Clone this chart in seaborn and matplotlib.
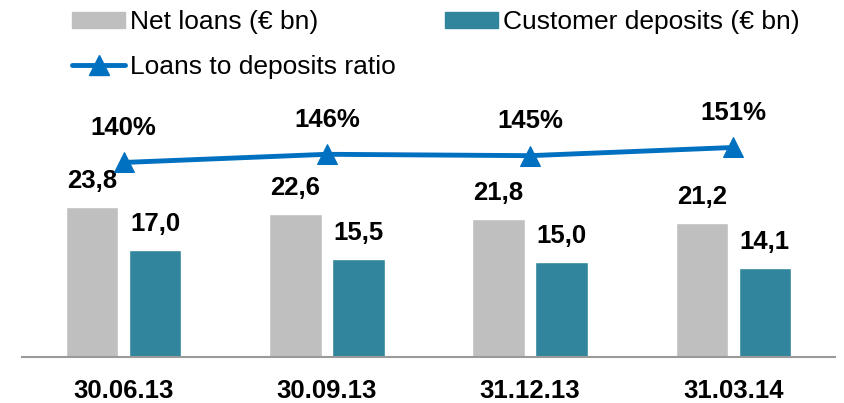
import numpy as np
import pandas as pd
import matplotlib.pyplot as plt
import seaborn as sns
from matplotlib.patches import Patch
from matplotlib.lines import Line2D

# chart data
dates = ["30.06.13", "30.09.13", "31.12.13", "31.03.14"]
net_loans = [23.8, 22.6, 21.8, 21.2]
deposits = [17.0, 15.5, 15.0, 14.1]
ratio = [140, 146, 145, 151]

GREY = "#BFBFBF"
TEAL = "#31859C"
BLUE = "#0070C0"

sns.set_style("white")
plt.rcParams["font.family"] = ["Liberation Sans", "DejaVu Sans"]
plt.rcParams["text.color"] = "black"
plt.rcParams["xtick.color"] = "black"

df = pd.DataFrame({
    "date": dates * 2,
    "value": net_loans + deposits,
    "series": ["Net loans (€ bn)"] * 4 + ["Customer deposits (€ bn)"] * 4,
})

fig = plt.figure(figsize=(8.44, 4.03), dpi=100)
ax = fig.add_axes([22 / 844, 46 / 403, 813 / 844, 257 / 403])

sns.barplot(data=df, x="date", y="value", hue="series",
            palette=[GREY, TEAL], width=0.62, gap=0.17,
            saturation=1, legend=False, ax=ax)
ax.set_xlim(-0.5, 3.5)
ax.set_ylim(0, 40.66)

for cont in ax.containers:
    ax.bar_label(cont, labels=[f"{v:.1f}".replace(".", ",") for v in cont.datavalues],
                 padding=10, fontsize=18.5, fontweight="bold", color="black")

# ratio line on secondary axis
ax2 = ax.twinx()
line_df = pd.DataFrame({"x": np.arange(len(dates)), "ratio": ratio})
sns.lineplot(data=line_df, x="x", y="ratio", color=BLUE, lw=3.5,
             marker="^", markersize=15, markeredgecolor=BLUE, ax=ax2)
ax2.set_ylim(-2.6, 185.8)
for i, r in enumerate(ratio):
    ax2.annotate(f"{r}%", (i, r), xytext=(0, 25), textcoords="offset points",
                 ha="center", va="center", fontsize=18.5, fontweight="bold", color="black")

for a in (ax, ax2):
    for s in ["top", "left", "right"]:
        a.spines[s].set_visible(False)
    a.set_ylabel("")
    a.set_xlabel("")
    a.set_yticks([])
ax.spines["bottom"].set_color("#9A9A9A")
ax.spines["bottom"].set_linewidth(1.5)
ax2.spines["bottom"].set_visible(False)
ax.tick_params(axis="x", length=0, pad=16, labelsize=18.5, labelcolor="black")
for t in ax.get_xticklabels():
    t.set_fontweight("bold")

handles = [
    Patch(color=GREY, label="Net loans (€ bn)"),
    Line2D([], [], color=BLUE, lw=3.5, marker="^", markersize=15, label="Loans to deposits ratio"),
    Patch(color=TEAL, label="Customer deposits (€ bn)"),
]
fig.legend(handles=handles, ncol=2, loc="upper left", bbox_to_anchor=(59 / 844, 1.0 + 3 / 403),
           frameon=False, fontsize=19, handlelength=2.0, handleheight=0.6,
           handletextpad=0.2, columnspacing=1.85, labelspacing=0.8, borderpad=0,
           labelcolor="black")

fig.savefig("out.png", dpi=100)
